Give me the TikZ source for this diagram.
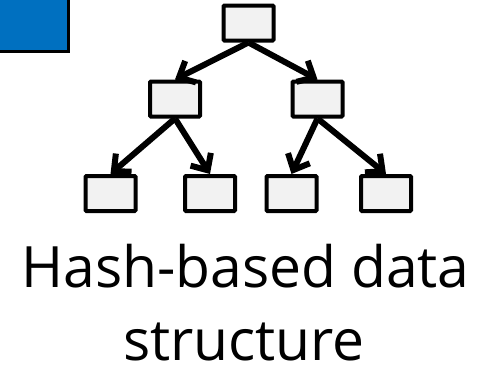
\documentclass[tikz,border=0pt]{standalone}
\usepackage{fontspec}
\setmainfont{Open Sans}
\usetikzlibrary{arrows.meta}
\definecolor{blueboxc}{HTML}{0070C0}
\definecolor{cellfill}{HTML}{F2F2F2}
\begin{document}
\begin{tikzpicture}[x=1pt,y=-1pt,
  cell/.style={draw=black,fill=cellfill,line width=4pt,rounded corners=1pt,minimum width=50pt,minimum height=35pt,inner sep=0pt},
  link/.style={draw=black,line width=6pt,-{Straight Barb[length=13pt,width=24pt]}},
  caption/.style={font=\fontsize{57}{68}\selectfont,anchor=base,inner sep=0pt}]
\useasboundingbox (0,0) rectangle (483,367);
\path[fill=blueboxc,draw=black,line width=3pt] (-10,-10) rectangle (68,51);
\node[cell] (t) at (248.5,23) {};
\node[cell] (ml) at (175,99) {};
\node[cell] (mr) at (317.5,99) {};
\node[cell] (b1) at (110.5,193.5) {};
\node[cell] (b2) at (210,193.5) {};
\node[cell] (b3) at (291.5,193.5) {};
\node[cell] (b4) at (386,193.5) {};
\draw[link] (t.south) -- (ml.north);
\draw[link] (t.south) -- (mr.north);
\draw[link] (ml.south) -- (b1.north);
\draw[link] (ml.south) -- (b2.north);
\draw[link] (mr.south) -- (b3.north);
\draw[link] (mr.south) -- (b4.north);
\node[caption] (l1) at (245.5,287) {Hash-based data};
\node[caption] (l2) at (244,360) {structure};
\end{tikzpicture}
\end{document}
